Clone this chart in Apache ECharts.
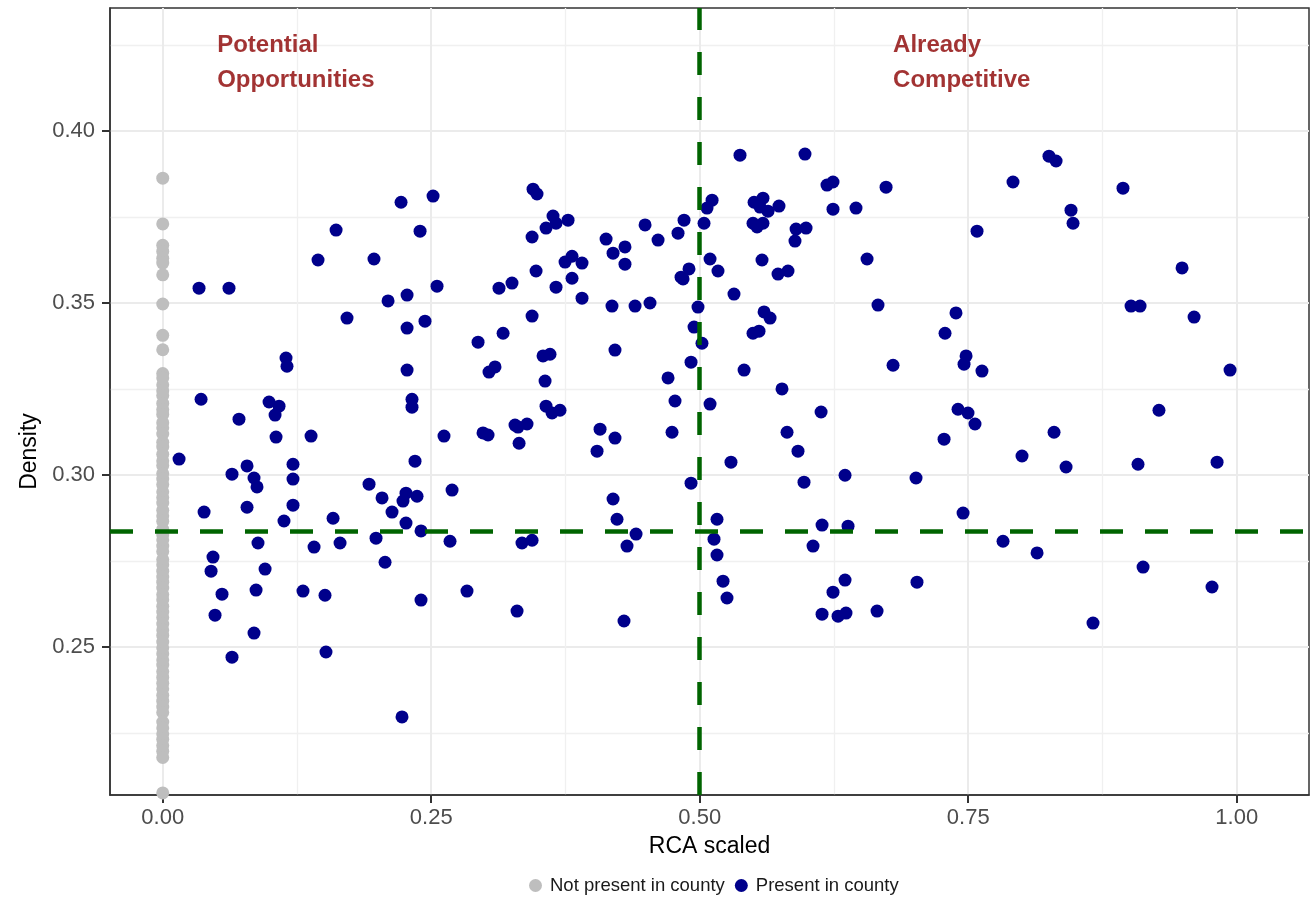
<!DOCTYPE html>
<html>
<head>
<meta charset="utf-8">
<script src="https://cdn.jsdelivr.net/npm/echarts@6/dist/echarts.min.js"></script>
<style>
  html, body { margin: 0; padding: 0; background: #ffffff; }
  #chart { width: 1310px; height: 897px; }
</style>
</head>
<body>
<div id="chart"></div>
<script>
// ---- Data ----
const X_TICKS = [0, 0.25, 0.5, 0.75, 1.0];
const X_MINOR = [0.125, 0.375, 0.625, 0.875];
const Y_TICKS = [0.25, 0.30, 0.35, 0.40];
const Y_MINOR = [0.225, 0.275, 0.325, 0.375, 0.425];

const X_MIN = -0.0491, X_MAX = 1.0673;
const Y_MIN = 0.2069, Y_MAX = 0.4358;

const VLINE_X = 0.5;
const HLINE_Y = 0.2836;

const ANNOT_TEXT = ['Potential\nOpportunities', 'Already\nCompetitive'];
const ANNOT_X = [0.0507, 0.680];
const ANNOT_Y = [0.4198, 0.4198];

const LEGEND_NAMES = ['Not present in county', 'Present in county'];

// Not present in county: RCA scaled = 0
const NOT_PRESENT_DENSITY = [
  0.3863, 0.3730, 0.3668, 0.3650, 0.3630, 0.3616, 0.3582, 0.3497, 0.3406, 0.3364,
  0.3295, 0.3282, 0.3262, 0.3245, 0.3231, 0.3208, 0.3190, 0.3176, 0.3152, 0.3137,
  0.3119, 0.3095, 0.3081, 0.3060, 0.3041, 0.3027, 0.3004, 0.2988, 0.2972, 0.2951,
  0.2934, 0.2918, 0.2897, 0.2881, 0.2865, 0.2842, 0.2826, 0.2811, 0.2793, 0.2777,
  0.2754, 0.2739, 0.2720, 0.2703, 0.2688, 0.2671, 0.2652, 0.2637, 0.2618, 0.2601,
  0.2585, 0.2566, 0.2549, 0.2533, 0.2514, 0.2497, 0.2480, 0.2462, 0.2447, 0.2428,
  0.2411, 0.2394, 0.2378, 0.2359, 0.2342, 0.2325, 0.2309, 0.2281, 0.2264, 0.2247,
  0.2231, 0.2213, 0.2196, 0.2178, 0.2075
];

// Present in county
const PRESENT_RCA = [
  0.0338, 0.0617, 0.0357, 0.0710, 0.0990, 0.1083, 0.1046, 0.1148, 0.1157, 0.1446,
  0.1614, 0.1716, 0.1967, 0.2098, 0.2219, 0.2396, 0.2517, 0.2275, 0.2275, 0.2442,
  0.2554, 0.2275, 0.2321, 0.2321, 0.2936, 0.3169, 0.3131, 0.3252, 0.3439, 0.3476,
  0.3439, 0.3448, 0.3485, 0.3569, 0.3634, 0.3662, 0.3662, 0.3038, 0.3094, 0.3541,
  0.3606, 0.3560, 0.3569, 0.3625, 0.3280, 0.3392, 0.3308,
  0.5375, 0.5980, 0.6185, 0.6241, 0.6735, 0.6241, 0.6455, 0.5506, 0.5589, 0.5636,
  0.5738, 0.5561, 0.5115, 0.5068, 0.5040, 0.5496, 0.5534, 0.5589, 0.5897, 0.5990,
  0.5887, 0.4854, 0.4798, 0.4491, 0.4612, 0.4128, 0.4304, 0.4193, 0.4304, 0.3746,
  0.3811, 0.3904, 0.3774, 0.3811, 0.3904, 0.4183, 0.4398, 0.4537, 0.4900, 0.4845,
  0.4826, 0.5096, 0.5170, 0.5580, 0.5729, 0.5822, 0.5319, 0.6558, 0.6660, 0.4984,
  0.4947, 0.5021, 0.5599, 0.5655, 0.5496, 0.5552, 0.4211, 0.4705, 0.4919, 0.4770,
  0.5096, 0.5413, 0.5766, 0.6130, 0.6800, 0.3699, 0.4072, 0.4742, 0.5813,
  0.8252, 0.8318, 0.7917, 0.8941, 0.8457, 0.8476, 0.7582, 0.9491, 0.9016, 0.9100,
  0.9603, 0.7386, 0.7284, 0.7480, 0.7461, 0.7628, 0.9938, 0.7405, 0.7498, 0.7563,
  0.9276, 0.8299,
  0.0152, 0.1055, 0.1381, 0.0785, 0.0645, 0.0850, 0.0878, 0.1213, 0.1213, 0.1213,
  0.0385, 0.0785, 0.1129, 0.0887, 0.0468, 0.0450, 0.0953, 0.0552, 0.0869, 0.0487,
  0.0850, 0.0645, 0.1306, 0.1409, 0.1511, 0.1520, 0.1586, 0.1651, 0.1921, 0.2042,
  0.1986, 0.2070, 0.2135, 0.2265, 0.2237, 0.2368, 0.2265, 0.2405, 0.2349, 0.2228,
  0.2405, 0.2619, 0.2694, 0.2675, 0.2833, 0.2982, 0.3029, 0.3318, 0.3345, 0.3439,
  0.3299,
  0.4211, 0.4044, 0.5915, 0.5291, 0.4919, 0.5971, 0.6353, 0.7014, 0.4193, 0.4230,
  0.4407, 0.4323, 0.5161, 0.5133, 0.5161, 0.5217, 0.5254, 0.4295, 0.6139, 0.6381,
  0.6055, 0.6353, 0.6241, 0.6139, 0.6288, 0.6362, 0.6651, 0.7023,
  0.7275, 0.8001, 0.8411, 0.9081, 0.9817, 0.7452, 0.7824, 0.8141, 0.9128, 0.9770,
  0.8662
];
const PRESENT_DENSITY = [
  0.3543, 0.3543, 0.3220, 0.3162, 0.3212, 0.3200, 0.3174, 0.3340, 0.3316, 0.3625,
  0.3712, 0.3456, 0.3628, 0.3506, 0.3793, 0.3709, 0.3811, 0.3523, 0.3427, 0.3447,
  0.3549, 0.3305, 0.3220, 0.3197, 0.3386, 0.3412, 0.3543, 0.3558, 0.3462, 0.3593,
  0.3692, 0.3831, 0.3817, 0.3718, 0.3753, 0.3732, 0.3546, 0.3299, 0.3314, 0.3346,
  0.3351, 0.3273, 0.3200, 0.3180, 0.3145, 0.3148, 0.3139,
  0.3930, 0.3933, 0.3843, 0.3852, 0.3837, 0.3773, 0.3776, 0.3793, 0.3805, 0.3767,
  0.3782, 0.3779, 0.3799, 0.3776, 0.3732, 0.3732, 0.3721, 0.3732, 0.3715, 0.3718,
  0.3680, 0.3741, 0.3703, 0.3727, 0.3683, 0.3686, 0.3663, 0.3645, 0.3613, 0.3619,
  0.3636, 0.3616, 0.3741, 0.3572, 0.3514, 0.3491, 0.3491, 0.3500, 0.3599, 0.3570,
  0.3575, 0.3628, 0.3593, 0.3625, 0.3584, 0.3593, 0.3526, 0.3628, 0.3494, 0.3488,
  0.3430, 0.3383, 0.3474, 0.3456, 0.3412, 0.3418, 0.3363, 0.3282, 0.3328, 0.3215,
  0.3206, 0.3305, 0.3250, 0.3183, 0.3319, 0.3188, 0.3133, 0.3124, 0.3124,
  0.3927, 0.3913, 0.3852, 0.3834, 0.3770, 0.3732, 0.3709, 0.3602, 0.3491, 0.3491,
  0.3459, 0.3471, 0.3412, 0.3346, 0.3322, 0.3302, 0.3305, 0.3191, 0.3180, 0.3148,
  0.3188, 0.3124,
  0.3046, 0.3110, 0.3113, 0.3026, 0.3002, 0.2991, 0.2965, 0.3031, 0.2988, 0.2912,
  0.2892, 0.2906, 0.2866, 0.2802, 0.2761, 0.2720, 0.2726, 0.2653, 0.2665, 0.2592,
  0.2540, 0.2470, 0.2662, 0.2790, 0.2650, 0.2485, 0.2874, 0.2802, 0.2973, 0.2933,
  0.2816, 0.2746, 0.2892, 0.2947, 0.2924, 0.2938, 0.2860, 0.2837, 0.3040, 0.2296,
  0.2636, 0.3113, 0.2956, 0.2807, 0.2662, 0.3122, 0.3116, 0.3092, 0.2802, 0.2810,
  0.2604,
  0.3107, 0.3069, 0.3069, 0.3037, 0.2976, 0.2979, 0.2999, 0.2991, 0.2930, 0.2871,
  0.2828, 0.2793, 0.2871, 0.2813, 0.2767, 0.2691, 0.2642, 0.2575, 0.2854, 0.2851,
  0.2793, 0.2694, 0.2659, 0.2595, 0.2589, 0.2598, 0.2604, 0.2688,
  0.3104, 0.3055, 0.3023, 0.3031, 0.3037, 0.2889, 0.2807, 0.2773, 0.2732, 0.2674,
  0.2569
];

// ---- Chart ----
const FONT = '"Liberation Sans", Arial, Helvetica, sans-serif';
const chart = echarts.init(document.getElementById('chart'), null, { renderer: 'canvas' });

const notPresentData = NOT_PRESENT_DENSITY.map(y => [0, y]);
const presentData = PRESENT_RCA.map((x, i) => [x, PRESENT_DENSITY[i]]);
const annotData = ANNOT_TEXT.map((t, i) => ({ value: [ANNOT_X[i], ANNOT_Y[i]], name: t }));

const fmt2 = v => Number(v).toFixed(2);

const option = {
  animation: false,
  backgroundColor: '#ffffff',
  textStyle: { fontFamily: FONT },
  grid: {
    left: 110, top: 8, width: 1199, height: 787,
    show: true, borderColor: '#333333', borderWidth: 1.5, backgroundColor: 'transparent'
  },
  legend: {
    data: LEGEND_NAMES,
    left: 529, top: 876,
    icon: 'circle', itemWidth: 13, itemHeight: 13, itemGap: 10,
    padding: 0,
    textStyle: { fontFamily: FONT, fontSize: 18.5, color: '#1a1a1a', padding: [0, 0, 0, 3] }
  },
  xAxis: [
    {
      type: 'value', gridIndex: 0, min: X_MIN, max: X_MAX,
      name: 'RCA scaled', nameLocation: 'middle', nameGap: 40,
      nameTextStyle: { fontFamily: FONT, fontSize: 23, color: '#000000' },
      axisLine: { show: true, onZero: false, lineStyle: { color: '#333333', width: 1.5 } },
      axisTick: { show: true, customValues: X_TICKS, length: 8, lineStyle: { color: '#333333', width: 2 } },
      axisLabel: { customValues: X_TICKS, formatter: fmt2, color: '#4d4d4d', fontSize: 22, margin: 12, fontFamily: FONT },
      splitLine: { show: true, lineStyle: { color: '#EBEBEB', width: 2 } }
    },
    {
      type: 'value', gridIndex: 0, min: X_MIN, max: X_MAX,
      axisLine: { show: false },
      axisTick: { show: false, customValues: X_MINOR },
      axisLabel: { show: false, customValues: X_MINOR },
      splitLine: { show: true, lineStyle: { color: '#F0F0F0', width: 1.3 } }
    }
  ],
  yAxis: [
    {
      type: 'value', gridIndex: 0, min: Y_MIN, max: Y_MAX,
      name: 'Density', nameLocation: 'middle', nameGap: 67,
      nameTextStyle: { fontFamily: FONT, fontSize: 23, color: '#000000', padding: [0, 100, 0, 0] },
      axisLine: { show: true, onZero: false, lineStyle: { color: '#333333', width: 1.5 } },
      axisTick: { show: true, customValues: Y_TICKS, length: 8, lineStyle: { color: '#333333', width: 2 } },
      axisLabel: { customValues: Y_TICKS, formatter: fmt2, color: '#4d4d4d', fontSize: 22, margin: 15, fontFamily: FONT },
      splitLine: { show: true, lineStyle: { color: '#EBEBEB', width: 2 } }
    },
    {
      type: 'value', gridIndex: 0, min: Y_MIN, max: Y_MAX,
      axisLine: { show: false },
      axisTick: { show: false, customValues: Y_MINOR },
      axisLabel: { show: false, customValues: Y_MINOR },
      splitLine: { show: true, lineStyle: { color: '#F0F0F0', width: 1.3 } }
    }
  ],
  series: [
    {
      name: LEGEND_NAMES[0], type: 'scatter', xAxisIndex: 0, yAxisIndex: 0,
      data: notPresentData, symbol: 'circle', symbolSize: 13,
      itemStyle: { color: '#BEBEBE', opacity: 1 }, z: 2, silent: true
    },
    {
      name: LEGEND_NAMES[1], type: 'scatter', xAxisIndex: 0, yAxisIndex: 0,
      data: presentData, symbol: 'circle', symbolSize: 13,
      itemStyle: { color: '#00008B', opacity: 1 }, z: 3, silent: true,
      markLine: {
        silent: true, symbol: ['none', 'none'], animation: false, precision: 4,
        label: { show: false },
        lineStyle: { color: '#006400', width: 4.5, type: [23, 22], opacity: 1 },
        emphasis: { disabled: true },
        data: [ { xAxis: VLINE_X }, { yAxis: HLINE_Y } ]
      }
    },
    {
      name: 'annotations', type: 'scatter', xAxisIndex: 0, yAxisIndex: 0,
      data: annotData, symbolSize: 0, silent: true, z: 6,
      itemStyle: { color: '#8B0000' },
      label: {
        show: true, position: 'right', distance: 0, align: 'left', verticalAlign: 'middle',
        formatter: p => p.name,
        fontFamily: FONT, fontSize: 24, fontWeight: 'bold', color: '#8B0000', lineHeight: 35,
        textBorderWidth: 0, textShadowBlur: 0
      }
    }
  ]
};
chart.setOption(option);
</script>
</body>
</html>
